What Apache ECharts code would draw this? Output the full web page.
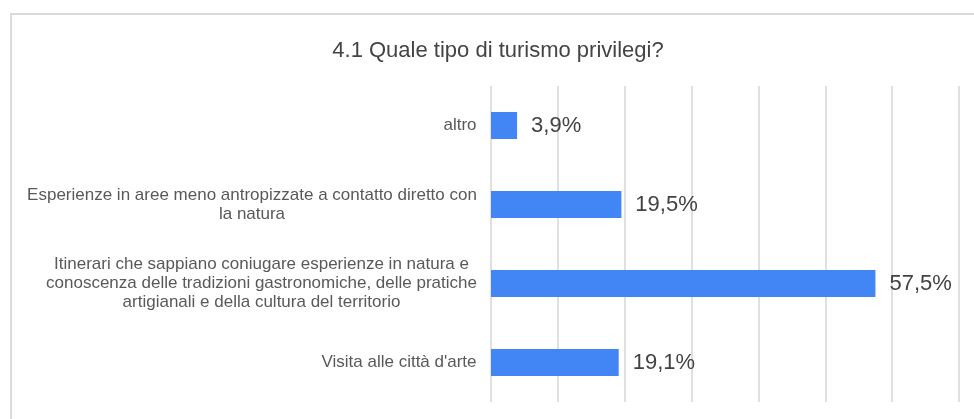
<!DOCTYPE html>
<html>
<head>
<meta charset="utf-8">
<script src="https://cdn.jsdelivr.net/npm/echarts@6/dist/echarts.min.js"></script>
<style>
  html, body { margin: 0; padding: 0; background: #fff; }
  #chart { width: 974px; height: 419px; }
</style>
</head>
<body>
<div id="chart"></div>
<script>
  const titleText = '4.1 Quale tipo di turismo privilegi?'
  // righe spezzate come nel grafico originale
  const categories = [
    'altro',
    'Esperienze in aree meno antropizzate a contatto diretto con\nla natura',
    'Itinerari che sappiano coniugare esperienze in natura e\nconoscenza delle tradizioni gastronomiche, delle pratiche\nartigianali e della cultura del territorio',
    'Visita alle città d\'arte'
  ]
  const values = [3.9, 19.5, 57.5, 19.1]
  const axisMax = 70
  const axisStep = 10

  const fontFamily = '"Liberation Sans", Arial, sans-serif'
  const catFont = 17

  // larghezza della riga più lunga di ogni etichetta, per centrare le righe
  const ctx = document.createElement('canvas').getContext('2d')
  ctx.font = catFont + 'px ' + fontFamily
  const rich = {}
  categories.forEach((c, i) => {
    const w = Math.max(...c.split('\n').map(l => ctx.measureText(l).width))
    rich['l' + i] = { width: Math.ceil(w), align: 'center', fontSize: catFont, lineHeight: 19, color: '#595959', fontFamily: fontFamily }
  })

  const myChart = echarts.init(document.getElementById('chart'))
  myChart.setOption({
    animation: false,
    title: {
      text: titleText,
      left: 493,
      top: 35,
      textAlign: 'center',
      textStyle: { fontSize: 22, fontWeight: 'normal', color: '#444', fontFamily: fontFamily }
    },
    graphic: [
      { type: 'polyline', shape: { points: [[11, 419], [11, 14], [974, 14]] }, style: { stroke: '#dadada', lineWidth: 2, fill: null } }
    ],
    grid: { left: 491, right: 15, top: 86, bottom: 17 },
    xAxis: {
      type: 'value',
      min: 0,
      max: axisMax,
      interval: axisStep,
      axisLabel: { show: false },
      axisTick: { show: false },
      axisLine: { show: false },
      splitLine: { lineStyle: { color: '#d9d9d9', width: 1.6 } }
    },
    yAxis: {
      type: 'category',
      inverse: true,
      data: categories,
      axisLine: { show: false },
      axisTick: { show: false },
      axisLabel: {
        margin: 14,
        formatter: (v, i) => v.split('\n').map(l => '{l' + i + '|' + l + '}').join('\n'),
        rich: rich
      }
    },
    series: [
      {
        type: 'bar',
        data: values,
        barWidth: 27,
        itemStyle: { color: '#4285f4' },
        label: {
          show: true,
          position: 'right',
          distance: 14,
          fontSize: 22,
          color: '#424242',
          fontFamily: fontFamily,
          formatter: p => p.value.toFixed(1).replace('.', ',') + '%'
        }
      }
    ]
  })
</script>
</body>
</html>
